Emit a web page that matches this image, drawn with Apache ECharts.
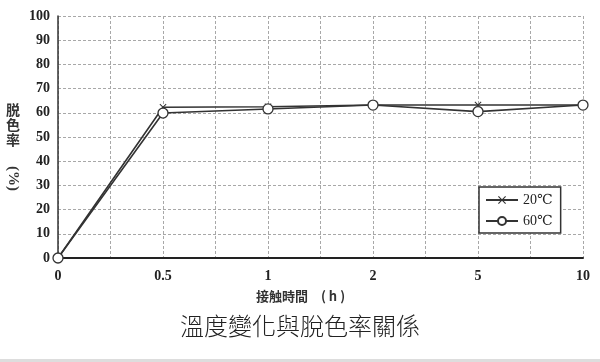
<!DOCTYPE html>
<html><head><meta charset="utf-8">
<script src="https://cdn.jsdelivr.net/npm/echarts@6/dist/echarts.min.js"></script>
<style>html,body{margin:0;padding:0;background:#fff}#c{width:600px;height:362px}</style>
</head><body><div id="c"></div>
<script>
var categories = ['0', '0.5', '1', '2', '5', '10'];
var series20 = [0, 62.3, 62.5, 63.2, 63.2, 63.2];
var series60 = [0, 59.9, 61.6, 63.2, 60.5, 63.2];
var seriesNames = ['20℃', '60℃'];
var yTicks = {min: 0, max: 100, interval: 10};
var title = '溫度變化與脫色率關係';
var xName = '接触時間　( h )';

var serif = '"Liberation Serif", "DejaVu Serif", serif';
var chart = echarts.init(document.getElementById('c'));
var crossPath = 'path://M0,1L1,0L5,4L9,0L10,1L6,5L10,9L9,10L5,6L1,10L0,9L4,5Z';
chart.setOption({
  animation: false,
  backgroundColor: '#fff',
  grid: {left: 58, top: 16, width: 525, height: 242},
  xAxis: [{
    type: 'category', data: categories, boundaryGap: false,
    axisLine: {lineStyle: {color: '#222', width: 2}},
    axisTick: {show: false},
    axisLabel: {fontFamily: serif, fontSize: 14, fontWeight: 'bold', color: '#222', margin: 11},
    splitLine: {show: false}
  }, {
    type: 'value', min: 0, max: 10, interval: 1, position: 'bottom',
    axisLine: {show: false}, axisTick: {show: false}, axisLabel: {show: false},
    splitLine: {show: true, lineStyle: {color: '#a8a8a8', type: [3, 2], width: 1}}
  }],
  yAxis: {
    type: 'value', min: yTicks.min, max: yTicks.max, interval: yTicks.interval,
    axisLine: {show: true, lineStyle: {color: '#333', width: 1.5}},
    axisTick: {show: false},
    axisLabel: {fontFamily: serif, fontSize: 14, fontWeight: 'bold', color: '#222', margin: 8},
    splitLine: {lineStyle: {color: '#a8a8a8', type: [3, 2], width: 1}}
  },
  legend: {
    orient: 'vertical', left: 479, top: 187,
    data: seriesNames,
    borderColor: '#333', borderWidth: 1.5, borderRadius: 0,
    padding: [6, 8, 5, 6], itemGap: 7, itemWidth: 32, itemHeight: 10,
    backgroundColor: '#fff',
    textStyle: {fontFamily: serif, fontSize: 14, color: '#222'}
  },
  graphic: [
    {type: 'text', left: 6, top: 102, style: {text: '脱\n色\n率', fontFamily: '"Noto Sans CJK JP", serif', fontSize: 14, lineHeight: 15, fill: '#333', fontWeight: 'bold'}},
    {type: 'text', x: 20, y: 166, rotation: -Math.PI / 2, style: {text: '(%)', fontFamily: serif, fontSize: 15, fill: '#333', fontWeight: 'bold'}},
    {type: 'text', x: 256, y: 290, style: {text: xName, fontFamily: '"Noto Sans CJK JP", sans-serif', fontSize: 13, fill: '#333', fontWeight: 'bold'}},
    {type: 'text', left: 'center', top: 314, style: {text: title, fontFamily: '"Noto Sans CJK TC", sans-serif', fontSize: 24, fill: '#222', fontWeight: 300}},
    {type: 'rect', left: 0, top: 359, shape: {width: 600, height: 3}, style: {fill: '#ddd'}}
  ],
  series: [{
    name: seriesNames[0], type: 'line', data: series20,
    symbol: crossPath, symbolSize: 7,
    itemStyle: {color: '#333'},
    lineStyle: {color: '#333', width: 1.6}
  }, {
    name: seriesNames[1], type: 'line', data: series60,
    symbol: 'circle', symbolSize: 10,
    itemStyle: {color: '#fff', borderColor: '#333', borderWidth: 1.3},
    lineStyle: {color: '#333', width: 1.6}
  }]
});
</script></body></html>
